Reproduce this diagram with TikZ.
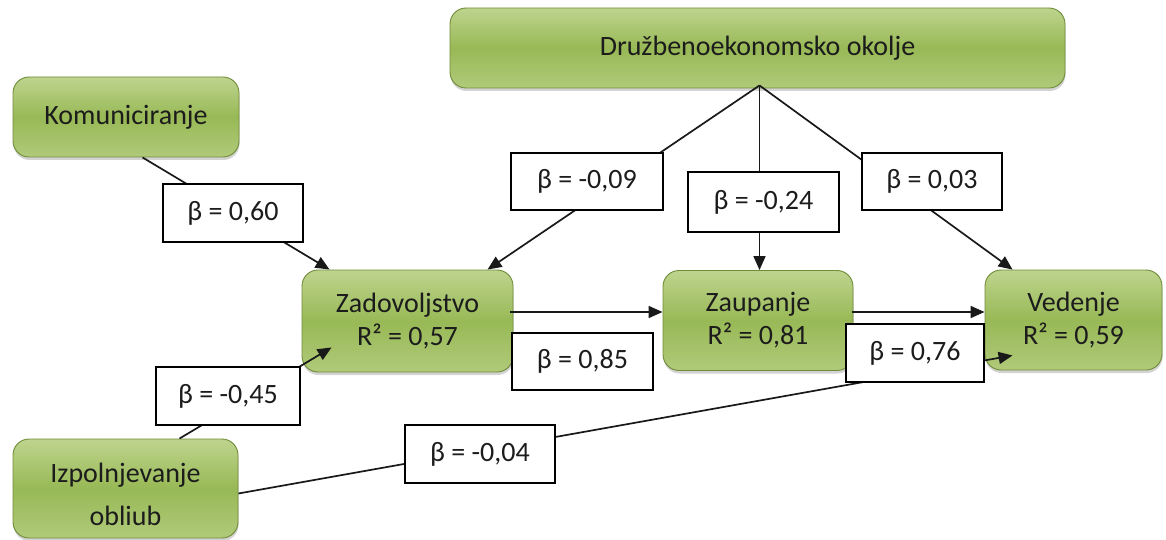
\documentclass[tikz,border=0pt]{standalone}
\usepackage{fontspec}
\setmainfont{Carlito}
\usetikzlibrary{arrows.meta,calc,shadows}
\definecolor{gtop}{RGB}{190,212,142}
\definecolor{gmid}{RGB}{152,185,86}
\definecolor{gbot}{RGB}{176,202,122}
\definecolor{gedge}{RGB}{112,140,56}
\definecolor{txt}{RGB}{28,28,28}
\begin{document}
\begin{tikzpicture}[x=1pt,y=-1pt,
  gbox/.style={rounded corners=16pt, draw=gedge, line width=0.9pt,
    top color=gtop, bottom color=gbot, middle color=gmid,
    drop shadow={shadow xshift=0.5pt, shadow yshift=-3pt, opacity=0.35},
    font=\fontsize{28}{33}\selectfont, text=txt, align=center, inner sep=0pt},
  lbox/.style={draw=black, line width=1.2pt, fill=white, text=txt,
    font=\fontsize{28}{33}\selectfont, inner sep=0pt},
  conn/.style={line width=1.7pt, draw=black!90},
  arr/.style={conn, -{Triangle[length=14pt,width=12pt]}}]
\useasboundingbox (0,0) rectangle (1166,540);

% green nodes
\node[gbox, minimum width=615pt, minimum height=80pt] (top) at (757.5,48) {Družbenoekonomsko okolje};
\node[gbox, minimum width=226pt, minimum height=80pt] (kom) at (126,117) {Komuniciranje};
\node[gbox, minimum width=211pt, minimum height=102pt] (zad) at (407.5,321) {Zadovoljstvo\\R² = 0,57};
\node[gbox, minimum width=190pt, minimum height=100pt] (zau) at (758,320.5) {Zaupanje\\R² = 0,81};
\node[gbox, minimum width=177pt, minimum height=100pt] (ved) at (1073.5,320) {Vedenje\\R² = 0,59};
\node[gbox, minimum width=225pt, minimum height=99pt,
  label={[yshift=-6pt, font=\fontsize{28}{33}\selectfont, text=txt, align=center]center:{Izpolnjevanje\\[10pt]obliub}}]
  (izp) at (125.5,488.5) {};

% connector end points
\coordinate (src) at ($(top.south)+(2,-3)$);
\coordinate (zadN) at ($(zad.north west)+(186,0)$);
\coordinate (zauN) at (src |- zau.north);
\coordinate (vedN) at ($(ved.north west)+(28,0)$);
\coordinate (komS) at ($(kom.south west)+(130,0)$);
\coordinate (zadNW) at ($(zad.north west)+(28,0)$);
\coordinate (izpN) at ($(izp.north west)+(167,0)$);
\coordinate (zadSW) at ($(zad.south west)+(30,-25)$);
\coordinate (izpE) at ($(izp.east)+(0,5)$);
\coordinate (vedSW) at ($(ved.south west)+(28,-15)$);
\coordinate (zadE) at ($(zad.east)+(-3,-9)$);
\coordinate (zauW) at ($(zau.west)+(0,-8.5)$);
\coordinate (zauE) at ($(zau.east)+(-1,-8.5)$);
\coordinate (vedW) at ($(ved.west)+(0,-8)$);

% connectors
\draw[arr] (src) -- (zadN);
\draw[arr] (src) -- (zauN);
\draw[arr] (src) -- (vedN);
\draw[arr] (komS) -- (zadNW);
\draw[arr] (izpN) -- (zadSW);
\draw[arr] (izpE) -- (vedSW);
\draw[arr] (zadE) -- (zauW);
\draw[arr] (zauE) -- (vedW);

% coefficient labels
\node[lbox, minimum width=140pt, minimum height=58pt] (b60) at (233,213) {β = 0,60};
\node[lbox, minimum width=152pt, minimum height=57pt] (b09) at (587,181.5) {β = -0,09};
\node[lbox, minimum width=151pt, minimum height=60pt] (b24) at (763.5,202) {β = -0,24};
\node[lbox, minimum width=140pt, minimum height=57pt] (b03) at (932,181.5) {β = 0,03};
\node[lbox, minimum width=141pt, minimum height=57pt] (b85) at (582.5,361.5) {β = 0,85};
\node[lbox, minimum width=138pt, minimum height=58pt] (b76) at (915,353) {β = 0,76};
\node[lbox, minimum width=144pt, minimum height=58pt] (b45) at (228,396) {β = -0,45};
\node[lbox, minimum width=150pt, minimum height=58pt] (b04) at (480,454) {β = -0,04};
\end{tikzpicture}
\end{document}
